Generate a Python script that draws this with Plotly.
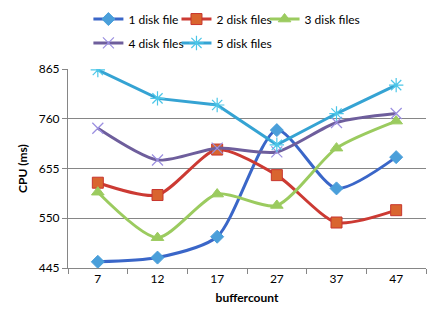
import plotly.graph_objects as go

categories = ["7", "12", "17", "27", "37", "47"]
series_names = ["1 disk file", "2 disk files", "3 disk files", "4 disk files", "5 disk files"]
s1 = [458, 467, 511, 736, 613, 679]
s2 = [625, 599, 695, 641, 541, 567]
s3 = [605, 509, 601, 577, 698, 755]
s4 = [740, 673, 698, 690, 752, 771]
s5 = [863, 803, 789, 705, 771, 831]
y_ticks = [445, 550, 655, 760, 865]

values = [s1, s2, s3, s4, s5]
line_colors = ["#3A66C8", "#CC3A33", "#9BCB5F", "#6E5E9C", "#35A3D3"]
marker_fill = ["#4A9FDA", "#D9652F", "#9BCB5F", "#9B8FE0", "#4CC6E8"]
marker_line = ["#4A9FDA", "#C8352E", "#9BCB5F", "#9B8FE0", "#4CC6E8"]
symbols = ["diamond", "square", "triangle-up", "x-thin", "asterisk"]
sizes = [10, 11, 11, 11, 12]
shapes = ["spline", "spline", "spline", "spline", "linear"]
legend_ids = ["legend", "legend2", "legend3", "legend4", "legend5"]
legend_pos = [(0.057, 1.251), (0.303, 1.251), (0.549, 1.251),
              (0.057, 1.131), (0.303, 1.131)]

fig = go.Figure()
for i in range(5):
    thin = symbols[i] in ("x-thin", "asterisk")
    fig.add_trace(go.Scatter(
        x=categories, y=values[i], name=series_names[i], mode="lines+markers",
        line=dict(color=line_colors[i], width=3, shape=shapes[i], smoothing=0.7),
        marker=dict(symbol=symbols[i], size=sizes[i], color=marker_fill[i],
                    line=dict(color=marker_line[i], width=1.2 if thin else 1)),
        legend=legend_ids[i],
    ))

font = "Lato, 'Liberation Sans', sans-serif"
legend_common = dict(orientation="h", xanchor="left", yanchor="middle",
                     font=dict(family=font, size=12, color="#000"),
                     itemwidth=30, bgcolor="rgba(0,0,0,0)")

legend_layout = {lid: dict(x=px, y=py, **legend_common)
                 for lid, (px, py) in zip(legend_ids, legend_pos)}

fig.update_layout(
    width=440, height=330,
    margin=dict(l=68, r=14, t=69, b=62, autoexpand=False),
    paper_bgcolor="white", plot_bgcolor="white",
    font=dict(family=font, size=12, color="#000"),
    showlegend=True,
    xaxis=dict(
        type="category", range=[-0.5, 5.5],
        title=dict(text="<b>buffercount</b>", font=dict(size=12), standoff=8),
        showline=True, linecolor="#868686", linewidth=1,
        ticks="outside", ticklen=5, tickcolor="#868686", tickson="boundaries",
        showgrid=False, zeroline=False,
    ),
    yaxis=dict(
        range=[445, 865], tickvals=y_ticks, ticktext=[str(v) for v in y_ticks],
        title=dict(text="<b>CPU (ms)</b>", font=dict(size=12), standoff=8),
        showline=True, linecolor="#868686", linewidth=1,
        ticks="outside", ticklen=5, tickcolor="#868686",
        showgrid=True, gridcolor="#868686", gridwidth=1, zeroline=False,
    ),
    **legend_layout,
)

fig.write_html("out.html")
